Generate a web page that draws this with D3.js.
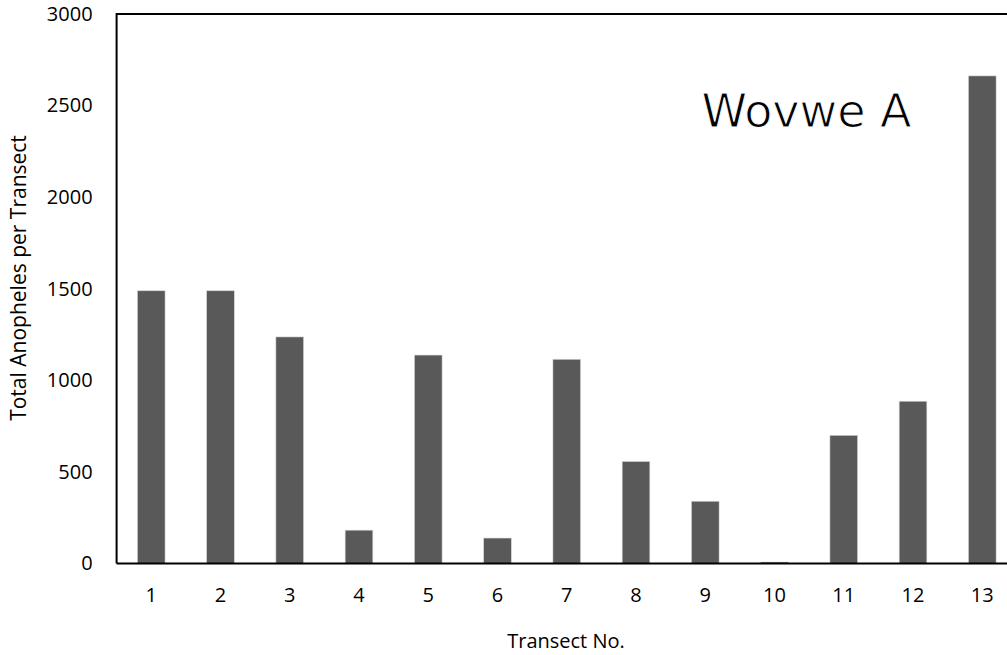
<!DOCTYPE html>
<html><head><meta charset="utf-8">
<script src="https://cdn.jsdelivr.net/npm/d3@7"></script>
<style>body{margin:0;background:#fff;}svg{display:block;}</style>
</head><body>
<svg id="c" width="1007" height="655"></svg>
<script>
const categories = ["1","2","3","4","5","6","7","8","9","10","11","12","13"];
const values = [1489,1489,1237,182,1138,139,1115,557,340,8,700,886,2662];
const yTicks = [0,500,1000,1500,2000,2500,3000];
const yLabel = "Total Anopheles per Transect";
const xLabel = "Transect No.";
const annotation = "Wovwe A";

const svg = d3.select("#c");
const pL = 116.6, pR = 1016.9, pT = 14, pB = 563.5;
const x = d3.scaleBand().domain(categories).range([pL, pR]).paddingInner(0.6).paddingOuter(0.3);
const y = d3.scaleLinear().domain([0,3000]).range([pB, pT]);
const font = "'Open Sans', sans-serif";

svg.selectAll("rect.bar").data(values).enter().append("rect")
  .attr("class","bar")
  .attr("x",(d,i)=>x(categories[i]))
  .attr("width",x.bandwidth())
  .attr("y",d=>y(d))
  .attr("height",d=>pB-y(d))
  .attr("fill","#595959")
  .attr("stroke","#d9d9d9").attr("stroke-width",0.6);

// frame
svg.append("path").attr("d",`M${pL},${pB}H${pR}M${pL},${pB}V${pT}H${pR}`)
  .attr("fill","none").attr("stroke","#000").attr("stroke-width",2);

const yAxis = svg.append("g").attr("transform",`translate(${pL},0)`)
  .call(d3.axisLeft(y).tickValues(yTicks).tickSize(0).tickPadding(24).tickFormat(d3.format("d")));
yAxis.select(".domain").remove();
yAxis.selectAll("text").attr("font-family",font).attr("font-size",20).attr("fill","#000");

const xAxis = svg.append("g").attr("transform",`translate(0,${pB})`)
  .call(d3.axisBottom(x).tickSize(0).tickPadding(24));
xAxis.select(".domain").remove();
xAxis.selectAll("text").attr("font-family",font).attr("font-size",20).attr("fill","#000");

svg.append("text").attr("transform",`translate(26,278) rotate(-90)`)
  .attr("text-anchor","middle").attr("font-family",font).attr("font-size",21).text(yLabel);
svg.append("text").attr("x",566).attr("y",648).attr("text-anchor","middle")
  .attr("font-family",font).attr("font-size",20).text(xLabel);
svg.append("text").attr("x",806.5).attr("y",127).attr("text-anchor","middle")
  .attr("font-family","'DejaVu Sans',sans-serif").attr("font-size",46)
  .attr("stroke","#fff").attr("stroke-width",1).text(annotation);
</script>
</body></html>
